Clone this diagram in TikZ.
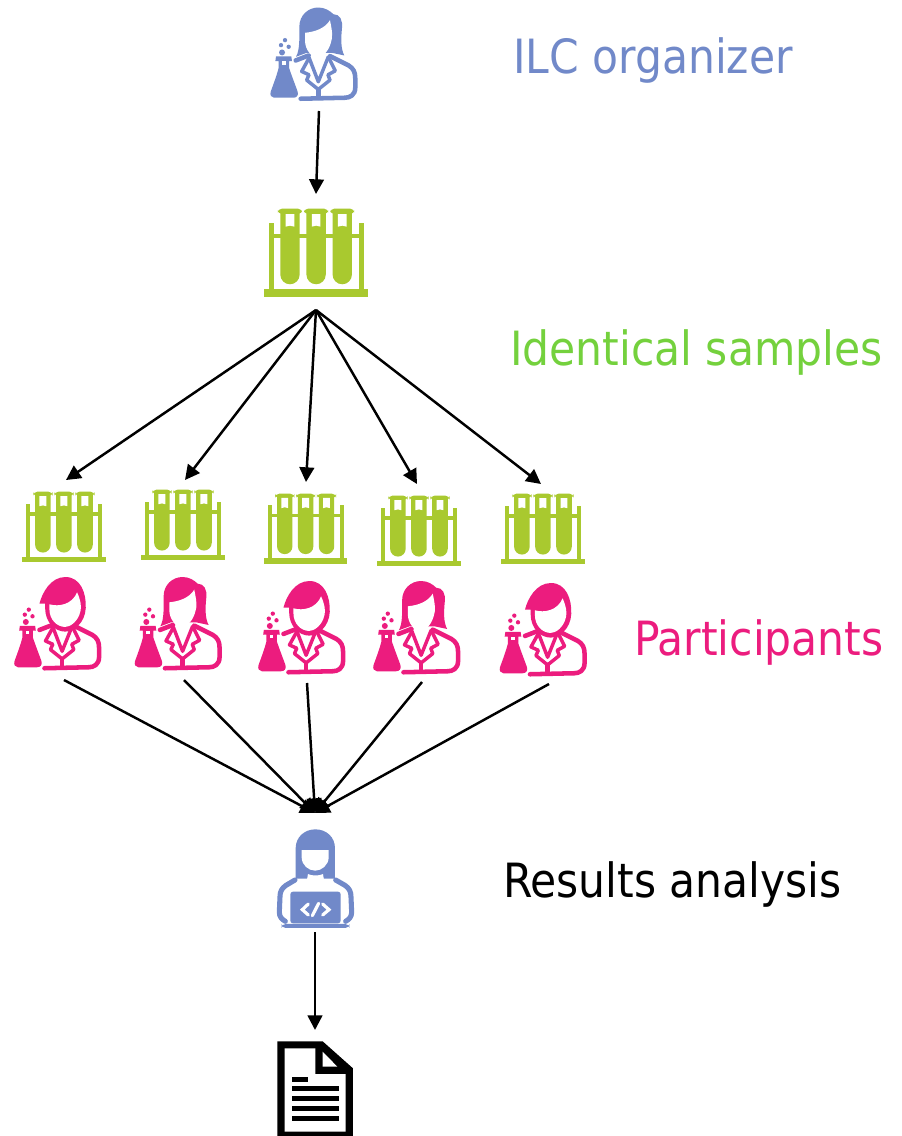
\documentclass[tikz,border=0pt]{standalone}
\usepackage{fontspec}
\setmainfont{DejaVu Sans Condensed}
\usetikzlibrary{arrows.meta}
\definecolor{orgblue}{HTML}{7189C9}
\definecolor{rackgreen}{HTML}{A9C92F}
\definecolor{samplegreen}{HTML}{74D13D}
\definecolor{partpink}{HTML}{EC1C7E}
\tikzset{
  conn/.style={draw=black,line width=1.85pt,-{Triangle[length=11pt,width=11pt]}},
  lab/.style={anchor=base west,inner sep=0pt,font=\fontsize{35.4}{40}\selectfont},
  coatline/.style={line width=#1,line cap=round,line join=round,fill=none},
}
\newcommand{\bodyicon}[1]{%
  \fill[#1] (78,169) -- (124,169) -- (126,183) -- (117,183) -- (117,203) .. controls (126,230) and (136,255) .. (143,275) .. controls (146,286) and (140,293) .. (130,293) -- (72,293) .. controls (64,293) and (59,285) .. (62,275) .. controls (69,255) and (79,230) .. (86,203) -- (86,183) -- (76,183) -- cycle;
  \fill[white] (96,183) rectangle (107,194);
  \fill[#1] (96,157) circle (9) (93,135) circle (6.5) (116,140) circle (6.5) (105,120) circle (6.5);
  \begin{scope}[draw=#1,coatline=3.4pt]
    \draw (137,181) -- (176,166);
    \draw (240,168) -- (296,196) .. controls (310,205) and (316,215) .. (316,235) -- (316,262) .. controls (316,285) and (300,293) .. (285,293) -- (152,296);
    \draw (205,268) -- (205,293);
  \end{scope}
  \begin{scope}[draw=#1,coatline=2.6pt]
    \draw (177,172) -- (205,245) -- (235,170);
    \draw (176,176) -- (155,214) -- (177,224) -- (170,240) -- (205,268) -- (240,240) -- (234,224) -- (256,212) -- (238,176);
  \end{scope}
}
\newcommand{\femalescientist}[4]{%
  \begin{scope}[shift={(#1,#2)},scale=#3,shift={(-62,-22)}]
    \bodyicon{#4}
    \fill[#4] (138,170) .. controls (150,150) and (148,110) .. (148,80) .. controls (148,45) and (175,22) .. (205,22) .. controls (225,22) and (240,32) .. (250,42) .. controls (270,42) and (279,60) .. (276,85) .. controls (273,115) and (272,145) .. (283,166) -- (245,158) -- (170,158) -- cycle;
    \fill[white] (165,98) .. controls (195,95) and (225,85) .. (240,60) .. controls (246,90) and (250,110) .. (242,130) .. controls (235,155) and (215,172) .. (205,172) .. controls (185,172) and (165,150) .. (165,120) -- cycle;
  \end{scope}
}
\newcommand{\malescientist}[4]{%
  \begin{scope}[shift={(#1,#2)},scale=#3,shift={(-62,-22)}]
    \bodyicon{#4}
    \fill[#4] (137,102) .. controls (145,70) and (170,22) .. (215,22) .. controls (260,22) and (278,70) .. (276,115) .. controls (274,160) and (240,186) .. (214,186) .. controls (185,186) and (154,160) .. (154,115) -- (154,102) -- cycle;
    \fill[white] (167,104) .. controls (195,112) and (235,105) .. (250,68) .. controls (260,90) and (264,110) .. (260,125) .. controls (253,155) and (230,172) .. (214,172) .. controls (190,172) and (167,150) .. (167,120) -- cycle;
  \end{scope}
}
\newcommand{\rackicon}[3]{%
  \begin{scope}[shift={(#1,#2)},scale=#3,shift={(-42,-27)},fill=rackgreen]
    \fill (42,268) rectangle (355,290);
    \fill (57,70) rectangle (71,270);
    \fill (327,70) rectangle (341,270);
    \fill (57,101) rectangle (341,115);
    \foreach \c in {120,198.5,277}{
      \fill[rounded corners=3] (\c-36,26) rectangle (\c+36,42);
      \fill (\c-29,35) -- (\c+29,35) -- (\c+29,224) arc[start angle=0,end angle=180,radius=29] -- cycle;
      \fill[white] (\c-13,42) -- (\c+13,42) -- (\c+13,80) .. controls (\c+5,76) and (\c-5,76) .. (\c-13,80) -- cycle;
    }
  \end{scope}
}
\begin{document}
\begin{tikzpicture}[x=0.75pt,y=-0.75pt]
\useasboundingbox (0,0) rectangle (901,1136);
\fill[white] (0,0) rectangle (901,1136);

\femalescientist{270.7}{7.5}{0.333}{orgblue}
\rackicon{264}{209}{0.333}

\rackicon{22}{492}{0.268}
\rackicon{141}{490}{0.268}
\rackicon{264}{494}{0.266}
\rackicon{377}{496}{0.268}
\rackicon{501}{494}{0.268}

\malescientist{14.5}{577}{0.333}{partpink}
\femalescientist{135}{577}{0.333}{partpink}
\malescientist{258.5}{581}{0.333}{partpink}
\femalescientist{373.5}{581}{0.333}{partpink}
\malescientist{500}{583}{0.333}{partpink}

\begin{scope}[shift={(250,780)},scale=0.3333]
  \fill[orgblue] (137,296) -- (137,205) .. controls (137,170) and (165,148) .. (196,148) .. controls (228,148) and (255,170) .. (255,205) -- (255,296) -- cycle;
  \fill[white] (155,210) -- (236,210) -- (236,232) .. controls (236,255) and (215,272) .. (196,272) .. controls (175,272) and (155,255) .. (155,232) -- cycle;
  \fill[white] (174,282) .. controls (185,288) and (208,288) .. (219,282) -- (222,300) -- (171,300) -- cycle;
  \draw[orgblue,coatline=3.8pt] (135,300) -- (108,316) .. controls (95,325) and (90,335) .. (90,350) -- (88,396) .. controls (88,410) and (95,418) .. (106,424);
  \draw[orgblue,coatline=3.8pt] (257,300) -- (285,316) .. controls (298,325) and (303,335) .. (303,350) -- (305,396) .. controls (305,410) and (298,418) .. (287,424);
  \fill[orgblue,rounded corners=2] (121,335) rectangle (272,430);
  \fill[orgblue,rounded corners=3] (95,432) rectangle (298,444);
  \draw[white,line width=2.4pt,line cap=round,line join=miter] (175,372) -- (157,389) -- (175,405);
  \draw[white,line width=2.4pt,line cap=round,line join=miter] (218,372) -- (237,389) -- (218,405);
  \draw[white,line width=2.4pt,line cap=round] (187,407) -- (206,370);
\end{scope}

\begin{scope}[shift={(250,1030)},scale=0.3333]
  \fill[black] (82,34) -- (218,34) -- (309,115) -- (309,318) -- (82,318) -- cycle;
  \fill[white] (104,55) -- (196,55) -- (196,132) -- (287,132) -- (287,305) -- (104,305) -- cycle;
  \fill[white] (218,65) -- (262,110) -- (218,110) -- cycle;
  \fill[black] (126,142) rectangle (174,156);
  \fill[black] (126,168) rectangle (267,183);
  \fill[black] (126,199) rectangle (267,214);
  \fill[black] (126,229) rectangle (267,243);
  \fill[black] (126,259) rectangle (267,273);
\end{scope}

\coordinate (orgOut) at (319,111);
\coordinate (rackIn) at (316,194);
\coordinate (rackOut) at (316,310);
\coordinate (rackA) at (66,480);
\coordinate (rackB) at (185,480);
\coordinate (rackC) at (306,482);
\coordinate (rackD) at (417,484);
\coordinate (rackE) at (541,484);
\coordinate (partA) at (64,680);
\coordinate (partB) at (184,680);
\coordinate (partC) at (307,683);
\coordinate (partD) at (422,682);
\coordinate (partE) at (549,684);
\coordinate (anaIn) at (315,813);
\coordinate (anaOut) at (315,932);
\coordinate (repIn) at (315,1030);

\draw[conn] (orgOut) -- (rackIn);
\foreach \t in {rackA,rackB,rackC,rackD,rackE} \draw[conn] (rackOut) -- (\t);
\foreach \s in {partA,partB,partC,partD,partE} \draw[conn] (\s) -- (anaIn);
\draw[conn] (anaOut) -- (repIn);

\node[lab,text=orgblue] (labOrg) at (513,73) {ILC organizer};
\node[lab,text=samplegreen] (labSamp) at (510,365) {Identical samples};
\node[lab,text=partpink] (labPart) at (634,655) {Participants};
\node[lab,text=black] (labRes) at (503,897) {Results analysis};
\end{tikzpicture}
\end{document}
